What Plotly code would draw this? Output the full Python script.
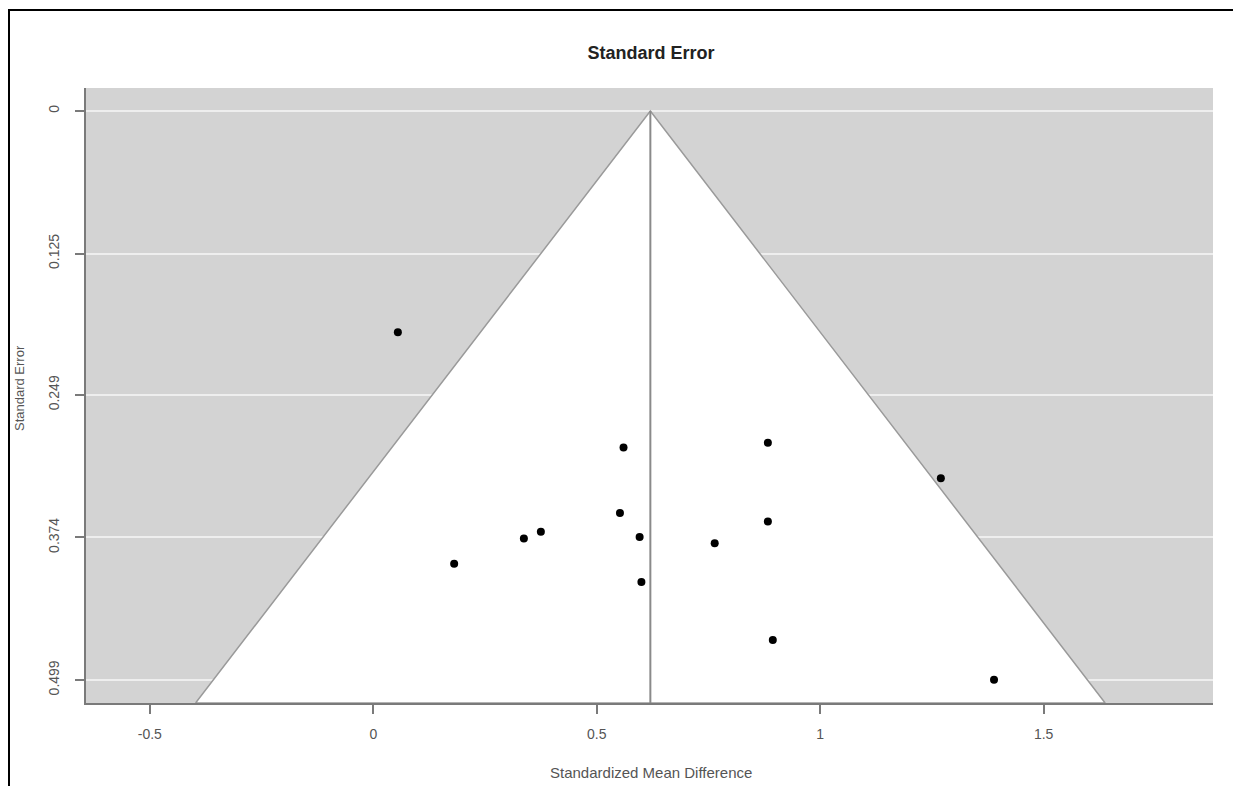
import plotly.graph_objects as go

# ---- data ----
smd = [0.055, 0.560, 0.883, 1.270, 0.552, 0.883, 0.375, 0.337, 0.596, 0.764, 0.181, 0.600, 0.894, 1.389]
se = [0.194, 0.295, 0.291, 0.322, 0.3525, 0.360, 0.369, 0.375, 0.3736, 0.379, 0.397, 0.413, 0.464, 0.4987]
estimate = 0.62
y_tick_vals = [0, 0.125, 0.249, 0.374, 0.499]
y_tick_text = ["0", "0.125", "0.249", "0.374", "0.499"]
x_tick_vals = [-0.5, 0, 0.5, 1, 1.5]
x_tick_text = ["-0.5", "0", "0.5", "1", "1.5"]

y_bottom = 0.5192
y_top = -0.0202
x_range = [-0.6428, 1.879]

OFF = 8  # page body margin
W, H = 1243 - 2 * OFF, 795 - 2 * OFF

fig = go.Figure()

# funnel (white region)
lo = estimate - 1.96 * y_bottom
hi = estimate + 1.96 * y_bottom
fig.add_trace(go.Scatter(
    x=[lo, estimate, hi, lo], y=[y_bottom, 0, y_bottom, y_bottom],
    mode="lines", fill="toself", fillcolor="white",
    line=dict(color="#9a9a9a", width=1.5), hoverinfo="skip", showlegend=False))

# vertical line at estimate
fig.add_trace(go.Scatter(
    x=[estimate, estimate], y=[0, y_bottom], mode="lines",
    line=dict(color="#8a8a8a", width=2), hoverinfo="skip", showlegend=False))

# points
fig.add_trace(go.Scatter(
    x=smd, y=se, mode="markers",
    marker=dict(color="black", size=8), showlegend=False))

# target screenshot pixel positions
left, right, top, bottom = 86 - OFF, 1213 - OFF, 88 - OFF, 703 - OFF
ml, mr, mt, mb = left, W - right, top, H - bottom
pw, ph = right - left, bottom - top

def px_x(p):
    return (p - OFF - ml) / pw

def px_y(p):
    return (bottom - (p - OFF)) / ph

border_path = "M {x0},{y1} L {x0},{y0} L {x1},{y0}".format(
    x0=px_x(9), y0=px_y(10), x1=px_x(1233), y1=px_y(H + OFF - 1))

fig.update_layout(
    width=W, height=H,
    margin=dict(l=ml, r=mr, t=mt, b=mb, autoexpand=False),
    paper_bgcolor="white", plot_bgcolor="#d3d3d3",
    font=dict(family="Liberation Sans, Arial, sans-serif", color="#555555"),
    title=dict(text="<b>Standard Error</b>", x=(651 - OFF) / W, xanchor="center",
               y=1 - (53 - OFF) / H, yanchor="middle", yref="container",
               font=dict(size=18, color="#222222")),
    xaxis=dict(range=x_range, tickvals=x_tick_vals, ticktext=x_tick_text,
               showgrid=False, zeroline=False, showline=True, linecolor="#7a7a7a",
               linewidth=2, ticks="outside", ticklen=9, tickwidth=1.5,
               tickcolor="#7a7a7a", tickfont=dict(size=14, color="#555555"),
               ticklabelstandoff=8),
    yaxis=dict(range=[y_bottom, y_top], tickvals=y_tick_vals, ticktext=y_tick_text,
               showgrid=True, gridcolor="#eeeeee", gridwidth=1.5,
               zeroline=False, showline=True, linecolor="#7a7a7a", linewidth=2,
               ticks="outside", ticklen=9, tickwidth=1.5, tickcolor="#7a7a7a",
               tickangle=-90, tickfont=dict(size=14, color="#555555"),
               ticklabelstandoff=10),
    annotations=[
        dict(text="Standardized Mean Difference", xref="paper", yref="paper",
             x=px_x(651), y=px_y(772), xanchor="center", yanchor="middle",
             showarrow=False, font=dict(size=15, color="#555555")),
        dict(text="Standard Error", xref="paper", yref="paper",
             x=px_x(19), y=px_y(388), xanchor="center", yanchor="middle",
             textangle=-90, showarrow=False, font=dict(size=13, color="#555555")),
    ],
    shapes=[
        dict(type="path", xref="paper", yref="paper", path=border_path,
             line=dict(color="black", width=2)),
    ],
)

fig.write_html("out.html")
